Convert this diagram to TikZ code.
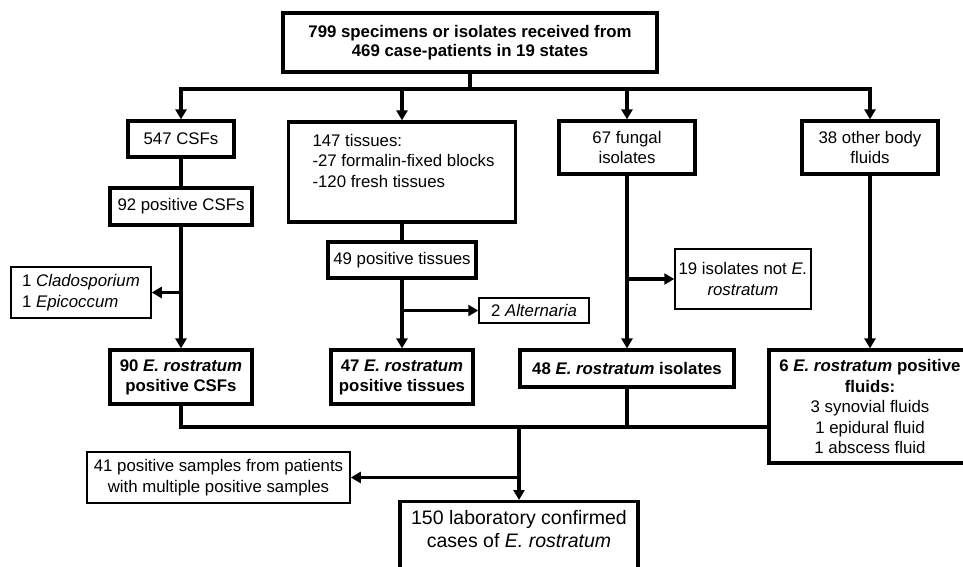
\documentclass[tikz,border=0pt]{standalone}
\usepackage{fontspec}
\setmainfont{Liberation Sans}
\usetikzlibrary{arrows.meta}
\begin{document}
\begin{tikzpicture}[x=1pt,y=-1pt,
  every node/.style={font=\fontsize{16.8}{20.5}\selectfont, inner sep=0pt, align=center},
  mainbox/.style={draw, line width=3.2pt},
  thinbox/.style={draw, line width=1.5pt},
  boldtxt/.style={font=\bfseries\fontsize{16.8}{20}\selectfont},
  conn/.style={line width=3.4pt},
  arr/.style={conn, -{Triangle[length=10pt,width=11pt]}}
]
\path[use as bounding box, clip] (0,0) rectangle (963,567);
\fill[white] (0,0) rectangle (963,567);

\node[mainbox, font=\bfseries\fontsize{16.8}{19.5}\selectfont, minimum width=374pt, minimum height=59pt] (top) at (470,42.5) {799 specimens or isolates received from\\469 case-patients in 19 states};

\node[mainbox, minimum width=106pt, minimum height=36pt] (csf) at (181,139) {547 CSFs};
\node[mainbox] (tis) at (402,172) {\parbox[c][100pt][t]{227pt}{\vspace*{12pt}\leftskip=24pt\relax 147 tissues:\\-27 formalin-fixed blocks\\-120 fresh tissues}};
\node[mainbox, minimum width=136pt, minimum height=53pt] (fung) at (627,147.5) {67 fungal\\isolates};
\node[mainbox, minimum width=136pt, minimum height=53pt] (oth) at (870,147.5) {38 other body\\fluids};

\node[mainbox, minimum width=142pt, minimum height=37pt] (pcsf) at (181,206.5) {92 positive CSFs};
\node[thinbox, align=left, minimum width=140pt, minimum height=51pt] (clad) at (81,292.5) {1 \textit{Cladosporium}\\1 \textit{Epicoccum}};
\node[mainbox, boldtxt, minimum width=142pt, minimum height=54pt] (ecsf) at (181,377) {90 \textit{E. rostratum}\\positive CSFs};

\node[mainbox, minimum width=148pt, minimum height=36pt] (ptis) at (402,260) {49 positive tissues};
\node[thinbox, minimum width=110pt, minimum height=25pt] (alt) at (534,310.5) {2 \textit{Alternaria}};
\node[mainbox, boldtxt, minimum width=142pt, minimum height=54pt] (etis) at (402,377) {47 \textit{E. rostratum}\\positive tissues};

\node[thinbox, minimum width=136pt, minimum height=60pt] (notE) at (743,279) {19 isolates not \textit{E.}\\\textit{rostratum}};
\node[mainbox, boldtxt, minimum width=214pt, minimum height=37pt] (eiso) at (627,368.5) {48 \textit{E. rostratum} isolates};

\node[mainbox, minimum width=202pt, minimum height=113pt] (efl) at (870,406.5) {\textbf{6 \textit{E. rostratum} positive}\\\textbf{fluids:}\\3 synovial fluids\\1 epidural fluid\\1 abscess fluid};

\node[thinbox, minimum width=263pt, minimum height=51pt] (pos41) at (218.5,477.5) {41 positive samples from patients\\with multiple positive samples};
\node[mainbox, anchor=north] (conf) at (519,500) {\parbox[c][90pt][t]{238pt}{\centering\fontsize{19.5}{23}\selectfont\vspace*{9pt}150 laboratory confirmed\\cases of \textit{E. rostratum}}};

% top distribution
\coordinate (bus) at (470,89);
\draw[conn] (top.south) -- (bus);
\draw[arr] (bus) -| (csf.north);
\draw[arr] (bus) -| (tis.north);
\draw[arr] (bus) -| (fung.north);
\draw[arr] (bus) -| (oth.north);

% CSF branch
\draw[conn] (csf.south) -- (pcsf.north);
\draw[arr] (pcsf.south) -- (ecsf.north);
\draw[arr] (pcsf.south |- clad.east) -- (clad.east);

% tissue branch
\draw[conn] (tis.south) -- (ptis.north);
\draw[arr] (ptis.south) -- (etis.north);
\draw[arr] (ptis.south |- alt.west) -- (alt.west);

% fungal branch
\draw[arr] (fung.south) -- (eiso.north);
\draw[arr] (fung.south |- notE.west) -- (notE.west);

% other fluids
\draw[arr] (oth.south) -- (efl.north);

% bottom collection
\coordinate (bb) at (519,427);
\draw[conn] (ecsf.south) |- (efl.west |- bb);
\draw[conn] (eiso.south) -- (eiso.south |- bb);
\draw[arr] (bb) -- (conf.north);
\draw[arr] (conf.north |- pos41.east) -- (pos41.east);
\end{tikzpicture}
\end{document}
